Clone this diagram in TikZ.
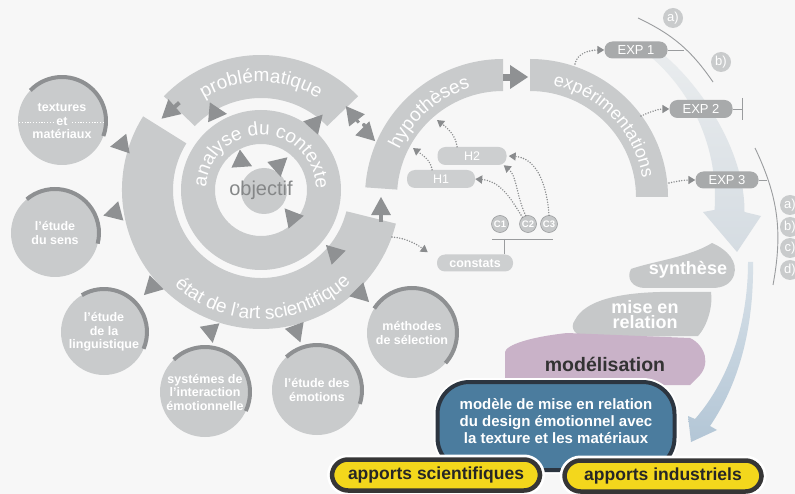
\documentclass[tikz,border=0pt]{standalone}
\usepackage{fontspec}
\setmainfont{Liberation Sans}
\usetikzlibrary{decorations.text,calc,arrows.meta}
\definecolor{bg}{HTML}{F7F7F7}
\definecolor{ring}{HTML}{C9CBCC}
\definecolor{darkarc}{HTML}{8E9092}
\definecolor{arr}{HTML}{8F9193}
\definecolor{expc}{HTML}{A8AAAB}
\definecolor{hboxc}{HTML}{CDCFD0}
\definecolor{objt}{HTML}{858788}
\definecolor{dotc}{HTML}{8A8C8E}
\definecolor{blob}{HTML}{C6C8C9}
\definecolor{lilac}{HTML}{C9B2C8}
\definecolor{modfill}{HTML}{4B7C9E}
\definecolor{modline}{HTML}{2C3540}
\definecolor{yel}{HTML}{F3D71C}
\definecolor{yline}{HTML}{363636}
\definecolor{bigA}{HTML}{E9ECEE}
\definecolor{bigB}{HTML}{D5DCE2}
\definecolor{blueA}{HTML}{D8E1E8}
\definecolor{blueB}{HTML}{B3C6D6}
\definecolor{thinc}{HTML}{9A9C9E}
\newcommand\myfs[1]{\fontsize{#1}{#1}\selectfont}
\newcommand\myfsl[2]{\fontsize{#1}{#2}\selectfont}
\newcommand\tri[2]{\fill[arr] ($(#1)+(#2:10)$) -- ($(#1)+({#2+129}:12.8)$) -- ($(#1)+({#2-129}:12.8)$) -- cycle;}
\begin{document}
\begin{tikzpicture}[x=1pt,y=1pt,
  circ/.style={circle,fill=ring,minimum size=#1,inner sep=0pt,text=white,align=center,font=\bfseries\myfsl{12.5}{13.5}},
  darc/.style={draw=darkarc,line width=4pt},
  expbox/.style={rounded corners=8pt,fill=expc,text=white,minimum width=63pt,minimum height=17pt,inner sep=0pt,font=\myfs{13}},
  hbox/.style={rounded corners=8pt,fill=hboxc,text=white,minimum height=18pt,inner sep=0pt,font=\myfs{12.5}},
  lab/.style={circle,fill=ring,text=white,minimum size=20pt,inner sep=0pt,font=\myfs{13}},
  cnode/.style={circle,fill=blob,draw=thinc,line width=0.6pt,text=white,minimum size=17pt,inner sep=0pt,font=\bfseries\myfs{9.5}},
  dotarrow/.style={draw=dotc,line width=1.6pt,line cap=round,dash pattern=on 0pt off 2.6pt,-{Triangle[length=7pt,width=8pt]}},
  thinl/.style={draw=thinc,line width=0.9pt},
  ybox/.style={rounded corners=16pt,fill=yel,draw=yline,line width=4.5pt,minimum height=31pt,inner sep=0pt,text=black!85,font=\bfseries\myfs{17.5},preaction={draw=white,line width=10pt}},
  ringtext/.style={decorate,decoration={text along path,text align=center,text color=white,text={#1}}}
]
\useasboundingbox (0,0) rectangle (795,-494);
\clip (0,0) rectangle (795,-494);
\fill[bg] (0,0) rectangle (795,-494);

\coordinate (C) at (261,-190);
\coordinate (H) at (503,-197);
\coordinate (E) at (530,-197);

% big light arrow
\shade[top color=bigA,bottom color=bigB] ($(E)+(52:185)$) arc[start angle=52,end angle=-4,radius=185]
  -- (703,-212) -- (737,-252) -- (761,-216) -- (744.5,-212)
  .. controls (745,-150) and (700,-85) .. (664,-55) -- cycle;
% second blue arrow
\shade[top color=blueA,bottom color=blueB] (748,-262) .. controls (748,-330) and (725,-385) .. (695,-419)
  -- (688,-416) -- (691,-442) -- (717,-430) -- (710,-426)
  .. controls (738,-385) and (754,-330) .. (753,-262) -- cycle;

% etat ring
\fill[ring] ($(C)+(148:139)$) arc[start angle=148,end angle=346,radius=139]
  -- ($(C)+(346:88)$) arc[start angle=346,end angle=148,radius=88] -- cycle;
% problematique
\fill[ring] ($(C)+(44:135)$) arc[start angle=44,end angle=136,radius=135]
  -- ($(C)+(136:92)$) arc[start angle=136,end angle=44,radius=92] -- cycle;
% analyse
\fill[ring,even odd rule] (C) circle[radius=80] (C) circle[radius=46];
\node[circle,fill=ring,minimum size=46pt,inner sep=0pt] (obj) at (264,-191) {};
\node[text=objt,font=\myfs{20}] (objt) at (261,-190) {objectif};
% hypotheses
\fill[ring] ($(H)+(90:138)$) arc[start angle=90,end angle=176,radius=138]
  -- ($(H)+(176:106)$) arc[start angle=176,end angle=90,radius=106] -- cycle;
% experimentations
\fill[ring] ($(E)+(0:138)$) arc[start angle=0,end angle=90,radius=138]
  -- ($(E)+(90:106)$) arc[start angle=90,end angle=0,radius=106] -- cycle;

% ring texts
\path[ringtext={|\myfs{19}|problématique}] ($(C)+(150:108)$) arc[start angle=150,end angle=30,radius=108];
\path[ringtext={|\myfs{19}|analyse du contexte}] ($(C)+(179:55)$) arc[start angle=179,end angle=-1,radius=55];
\path[ringtext={|\myfs{19}|état de l'art scientifique}] ($(C)+(200:129)$) arc[start angle=200,end angle=342,radius=129];
\path[ringtext={|\myfs{19}|hypothèses}] ($(H)+(181:114)$) arc[start angle=181,end angle=81,radius=114];
\path[ringtext={|\myfs{18}|expérimentations}] ($(E)+(94:114)$) arc[start angle=94,end angle=-6,radius=114];

% triangles
\tri{169,-112}{222}
\draw[arr,line width=4pt] ($(169,-112)+(42:6)$) -- ($(169,-112)+(42:14)$);
\tri{217,-113}{-5}
\tri{316,-122}{48}
\tri{352,-114}{128}
\draw[arr,line width=3pt] ($(352,-114)+(-52:6)$) -- ($(352,-114)+(-52:11)$);
\fill[arr] (364,-125) circle[radius=2];
\tri{368,-134}{-45}
\tri{243,-162}{-25}
\tri{280,-164}{42}
\tri{291,-216}{130}
\tri{333,-252}{135}
\tri{381,-207}{90}
\draw[arr,line width=4pt] (381,-213) -- (381,-222);
\tri{120,-145}{190}
\tri{113,-213}{195}
\tri{151,-288}{225}
\tri{211,-333}{280}
\tri{297,-333}{290}
\tri{362,-295}{-45}
% hyp -> exp arrow
\fill[arr] (503,-74) rectangle (511,-81);
\fill[arr] (510,-65) -- (528,-77) -- (510,-89) -- cycle;

% left circles
\node[circ=88pt] (tex) at (62,-121) {textures\\et\\matériaux};
\draw[darc] ($(tex.center)+(136:44)$) arc[start angle=136,end angle=-20,radius=44];
\draw[white,line width=1.2pt,dash pattern=on 1.2pt off 1.6pt] (19,-122.5) -- (53,-122.5) (72,-122.5) -- (105,-122.5);
\node[circ=88pt] (sens) at (55,-233) {l'étude\\du sens};
\draw[darc] ($(sens.center)+(130:44)$) arc[start angle=130,end angle=-14,radius=44];
\node[circ=86pt] (ling) at (104,-332) {l'étude\\de la\\linguistique};
\draw[darc] ($(ling.center)+(121:43)$) arc[start angle=121,end angle=-23,radius=43];
\node[circ=90pt] (sys) at (205,-392) {systémes de\\l'interaction\\émotionnelle};
\draw[darc] ($(sys.center)+(134:45)$) arc[start angle=134,end angle=-25,radius=45];
\node[circ=90pt] (emo) at (317,-390) {l'étude des\\émotions};
\draw[darc] ($(emo.center)+(133:45)$) arc[start angle=133,end angle=-18,radius=45];
\node[circ=90pt] (meth) at (412,-333) {méthodes\\de sélection};
\draw[darc] ($(meth.center)+(147:45)$) arc[start angle=147,end angle=-42,radius=45];

% H boxes, C nodes, constats
\node[hbox,minimum width=69pt] (h2) at (472,-156) {H2};
\node[hbox,minimum width=68pt] (h1) at (441,-179) {H1};
\node[cnode] (c1) at (500,-224) {C1};
\node[cnode] (c2) at (528,-224) {C2};
\node[cnode] (c3) at (549,-224) {C3};
\node[hbox,minimum width=76pt,minimum height=17pt,font=\bfseries\myfs{12.5}] (cons) at (475,-263) {constats};
\coordinate (cbl) at (492,-239);
\coordinate (cbr) at (553,-239);
\coordinate (cbar) at (504,-239);
\draw[thinl] (cbl) -- (cbr);
\draw[thinl] (cbar) -- (cbar |- cons.north);

\coordinate (hy1) at (437,-120);
\coordinate (hy2) at (413,-148);
\coordinate (es) at (392,-237);
\draw[dotarrow] ([xshift=-15pt]h2.north) .. controls +(-1,12) and +(9,-7) .. (hy1);
\draw[dotarrow] ([xshift=-9pt]h1.north) .. controls +(-1,10) and +(8,-6) .. (hy2);
\draw[dotarrow] (c2.130) .. controls (510,-197) and (500,-181) .. (h1.east);
\draw[dotarrow] (c2.105) .. controls (516,-195) and (517,-176) .. ([xshift=-3pt]h2.south east);
\draw[dotarrow] (c3.north) .. controls (547,-185) and (537,-158) .. ([xshift=2pt]h2.east);
\draw[dotarrow] (es) .. controls (405,-238) and (415,-243) .. ([xshift=-9pt,yshift=2pt]cons.north west);

% EXP boxes
\node[expbox] (e1) at (636,-50) {EXP 1};
\node[expbox,minimum height=18pt] (e2) at (701,-109) {EXP 2};
\node[expbox] (e3) at (727,-180) {EXP 3};
\coordinate (d1s) at (575,-64);
\coordinate (d2s) at (641,-116);
\coordinate (d3s) at (669,-183);
\draw[dotarrow] (d1s) .. controls (577,-53) and (590,-50) .. (e1.west);
\draw[dotarrow] (d2s) .. controls (650,-112) and (658,-109) .. (e2.west);
\draw[dotarrow] (d3s) .. controls (678,-181) and (685,-180) .. (e3.west);
\coordinate (arc1a) at (638,-18);
\coordinate (arc1b) at (713,-82);
\coordinate (arc1m) at (684,-50);
\draw[thinl] (arc1a) to[bend left=15] (arc1b);
\draw[thinl] (e1.east) -- (arc1m);
\coordinate (t2) at (742,-109);
\draw[thinl] (e2.east) -- (t2);
\draw[thinl] ([yshift=11pt]t2) -- ([yshift=-11pt]t2);
\coordinate (arc3a) at (755,-148);
\coordinate (arc3b) at (773,-285);
\coordinate (arc3m) at (767,-180);
\draw[thinl] (arc3a) to[bend left=18] (arc3b);
\draw[thinl] (e3.east) -- (arc3m);
\node[lab] (la1) at (673,-18) {a)};
\node[lab] (lb1) at (721,-62) {b)};
\node[lab] (la3) at (790,-205) {a)};
\node[lab] (lb3) at (790,-227) {b)};
\node[lab] (lc3) at (790,-248) {c)};
\node[lab] (ld3) at (790,-270) {d)};

% synthese, mise en relation, modelisation
\fill[blob] (712,-243) .. controls (728,-250) and (738,-262) .. (734,-275)
  .. controls (731,-284) and (723,-288) .. (712,-288) -- (645,-288)
  .. controls (632,-288) and (626,-278) .. (631,-269)
  .. controls (650,-262) and (690,-257) .. (712,-243) -- cycle;
\node[text=white,font=\bfseries\myfs{18}] (syn) at (688,-270) {synthèse};
\fill[blob] (575,-320) .. controls (585,-300) and (620,-293) .. (660,-292) -- (711,-292)
  .. controls (713,-305) and (708,-325) .. (698,-336) -- (590,-337)
  .. controls (575,-337) and (569,-328) .. (575,-320) -- cycle;
\node[text=white,font=\bfseries\myfsl{18}{15},align=center] (mer) at (645,-315) {mise en\\relation};
\fill[lilac] (505,-385) -- (505,-352) .. controls (506,-345) and (530,-337) .. (567,-333)
  -- (690,-338) .. controls (705,-345) and (712,-365) .. (697,-378) -- (690,-385) -- cycle;
\node[text=black!80,font=\bfseries\myfs{19.5}] (modl) at (605,-364) {modélisation};

% modele box
\node[rounded corners=32pt,fill=modfill,draw=modline,line width=4pt,minimum width=237pt,minimum height=88pt,inner sep=0pt,preaction={draw=white,line width=8pt}] (mod) at (556,-426) {};
\node[text=white,font=\bfseries\myfsl{15}{17},align=center] (modt) at (556,-421) {modèle de mise en relation\\du design émotionnel avec\\la texture et les matériaux};

% apports
\node[ybox,minimum width=208pt] (asc) at (436,-475) {apports scientifiques};
\node[ybox,minimum width=197pt] (ain) at (663,-476) {apports industriels};
\end{tikzpicture}
\end{document}
